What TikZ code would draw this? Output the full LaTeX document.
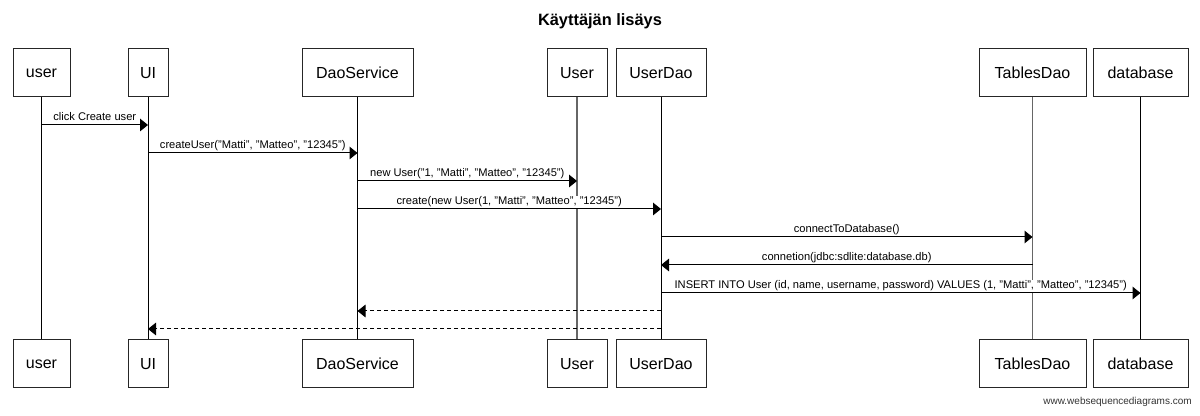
\documentclass[tikz,border=0pt]{standalone}
\usepackage{fontspec}
\setmainfont{Liberation Sans}
\usetikzlibrary{arrows.meta}
\begin{document}
\begin{tikzpicture}[x=0.75pt,y=-0.75pt,
  actor/.style={draw=black!85, line width=0.75pt, fill=white, minimum height=36pt,
    inner sep=0pt, font=\fontsize{12}{14}\selectfont, minimum width=#1*0.75pt},
  life/.style={line width=0.75pt, draw=black},
  lifeg/.style={line width=1pt, draw=black!60},
  msg/.style={line width=0.75pt, -{Triangle[length=6pt,width=9.5pt]}},
  ret/.style={msg, dash pattern=on 3pt off 2.25pt},
  lbl/.style={font=\fontsize{8.35}{10}\selectfont, anchor=base, inner sep=0.6pt,
    fill=white, yshift=3.2pt}]
\useasboundingbox (0,0) rectangle (1200,416);

\node[font=\bfseries\fontsize{12.3}{14}\selectfont] (title) at (600,21) {Käyttäjän lisäys};

% top actors
\node[actor=57]  (userT) at (41.5,73)   {user};
\node[actor=40]  (uiT)   at (148,73)    {UI};
\node[actor=111] (dsT)   at (357.5,73)  {DaoService};
\node[actor=60]  (usT)   at (577,73)    {User};
\node[actor=90]  (udT)   at (661,73)    {UserDao};
\node[actor=107] (tdT)   at (1032.5,73) {TablesDao};
\node[actor=95]  (dbT)   at (1140.5,73) {database};

% bottom actors
\node[actor=57]  (userB) at (41.5,364)   {user};
\node[actor=40]  (uiB)   at (148,364)    {UI};
\node[actor=111] (dsB)   at (357.5,364)  {DaoService};
\node[actor=60]  (usB)   at (577,364)    {User};
\node[actor=90]  (udB)   at (661,364)    {UserDao};
\node[actor=107] (tdB)   at (1032.5,364) {TablesDao};
\node[actor=95]  (dbB)   at (1140.5,364) {database};

% lifelines
\draw[life]  (userT.south) -- (userB.north);
\draw[life]  (uiT.south)   -- (uiB.north);
\draw[life]  (dsT.south)   -- (dsB.north);
\draw[lifeg] (usT.south)   -- (usB.north);
\draw[life]  (udT.south)   -- (udB.north);
\draw[lifeg] (tdT.south)   -- (tdB.north);
\draw[life]  (dbT.south)   -- (dbB.north);

% messages
\draw[msg] (userT.south |- 0,125) -- (uiT.south |- 0,125)
  node[lbl, midway] {click Create user};
\draw[msg] (uiT.south |- 0,153) -- (dsT.south |- 0,153)
  node[lbl, midway] {createUser("Matti", "Matteo", "12345")};
\draw[msg] (dsT.south |- 0,181) -- (usT.south |- 0,181)
  node[lbl, midway] {new User("1, "Matti", "Matteo", "12345")};
\draw[msg] (dsT.south |- 0,209) -- (udT.south |- 0,209)
  node[lbl, midway] {create(new User(1, "Matti", "Matteo", "12345")};
\draw[msg] (udT.south |- 0,237) -- (tdT.south |- 0,237)
  node[lbl, midway] {connectToDatabase()};
\draw[msg] (tdT.south |- 0,265) -- (udT.south |- 0,265)
  node[lbl, midway] {connetion(jdbc:sdlite:database.db)};
\draw[msg] (udT.south |- 0,293) -- (dbT.south |- 0,293)
  node[lbl, midway] {INSERT INTO User (id, name, username, password) VALUES (1, "Matti", "Matteo", "12345")};
\draw[ret] (udT.south |- 0,311) -- (dsT.south |- 0,311);
\draw[ret] (udT.south |- 0,329) -- (uiT.south |- 0,329);

\node[anchor=east, inner sep=0pt, text=black!80, font=\fontsize{7.5}{9}\selectfont] (wsd) at (1192,402) {www.websequencediagrams.com};
\end{tikzpicture}
\end{document}
